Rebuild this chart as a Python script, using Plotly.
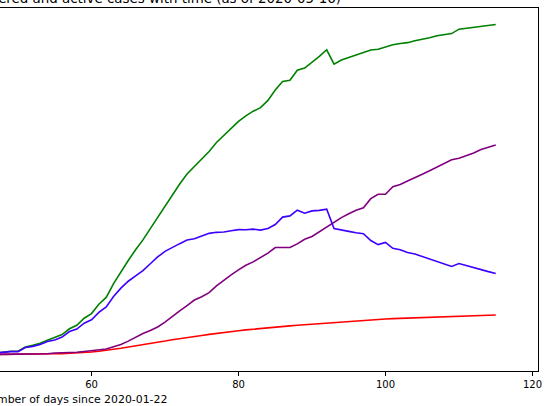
import plotly.graph_objects as go

days = list(range(47, 116))

confirmed = [1073, 1695, 2277, 2277, 5232, 6391, 7798, 9942, 11748, 13910,
             17963, 20410, 25374, 28603, 35136, 39885, 49515, 57786, 65719, 73235,
             80110, 87956, 95923, 104118, 112065, 119199, 126168, 131646, 136675, 141942,
             148220, 153222, 158273, 163027, 166831, 170099, 172541, 177644, 184948, 190839,
             191726, 198674, 200210, 204178, 208389, 213024, 202990, 205905, 207634, 209465,
             210773, 212917, 213435, 215216, 216582, 217466, 218011, 219329, 220325, 221447,
             222857, 223578, 224350, 227436, 228030, 228691, 229540, 230183, 230698]

deaths = [28, 35, 54, 55, 133, 195, 289, 342, 533, 623,
          830, 1043, 1375, 1772, 2311, 2808, 3647, 4365, 5138, 5982,
          6803, 7716, 8464, 9387, 10348, 11198, 11947, 12641, 13341, 14045,
          14792, 15447, 16081, 16606, 17209, 17756, 18056, 18708, 19315, 20002,
          20043, 20453, 20852, 21282, 21717, 22157, 22524, 22902, 23190, 23521,
          23822, 24275, 24543, 24824, 25100, 25264, 25428, 25613, 25857, 26070,
          26299, 26478, 26621, 26744, 26920, 27104, 27321, 27459, 27563]

recovered = [32, 32, 183, 183, 193, 517, 517, 530, 1028, 1081,
             1107, 1588, 2125, 2575, 3355, 3794, 5367, 7015, 9357, 12285,
             14709, 16780, 19259, 22647, 26743, 30513, 34219, 38080, 40437, 43208,
             48021, 52165, 55668, 59109, 62391, 64727, 67504, 70853, 74797, 74797,
             74797, 77357, 80587, 82514, 85915, 89250, 92355, 95708, 98372, 100875,
             102548, 108947, 112050, 112050, 117248, 118902, 121343, 123486, 126002, 128511,
             131148, 133952, 136166, 137139, 138980, 140823, 143374, 144783, 146446]

active = [1013, 1628, 2040, 2039, 4906, 5679, 6992, 9070, 10187, 12206,
          16026, 17779, 21874, 24256, 29470, 33283, 40501, 46406, 51224, 54968,
          58598, 63460, 68200, 72084, 74974, 77488, 80002, 80925, 82897, 84689,
          85407, 85610, 86524, 87312, 87231, 87616, 86981, 88083, 90836, 96040,
          96886, 100864, 98771, 100382, 100757, 101617, 88111, 87295, 86072, 85069,
          84403, 79695, 76842, 78342, 74234, 73300, 71240, 70230, 68466, 66866,
          65410, 63148, 61563, 63553, 62130, 60764, 58845, 57941, 56689]

x_ticks = [60, 80, 100, 120]
title_text = "Confirmed, deaths, recovered and active cases with time (as of 2020-05-16)"
xlabel_text = "Number of days since 2020-01-22"

FONT = "DejaVu Sans"

fig = go.Figure()
fig.add_trace(go.Scatter(x=days, y=confirmed, mode="lines", line=dict(color="#008000", width=1.6), name="Confirmed"))
fig.add_trace(go.Scatter(x=days, y=deaths, mode="lines", line=dict(color="#ff0000", width=1.6), name="Deaths"))
fig.add_trace(go.Scatter(x=days, y=recovered, mode="lines", line=dict(color="#800080", width=1.6), name="Recovered"))
fig.add_trace(go.Scatter(x=days, y=active, mode="lines", line=dict(color="#3c00ff", width=1.6), name="Active"))

ymax = max(confirmed)
pad = 0.05 * ymax

fig.update_layout(
    width=548, height=406,
    margin=dict(l=0, r=10, t=8, b=35, autoexpand=False),
    paper_bgcolor="white", plot_bgcolor="white",
    showlegend=False,
    font=dict(family=FONT, size=10, color="black"),
    xaxis=dict(range=[47.55, 120.75], tickvals=x_ticks, ticktext=[str(t) for t in x_ticks],
               showgrid=False, zeroline=False, showline=True, linecolor="black", linewidth=1,
               mirror=True, ticks="outside", ticklen=4, tickwidth=1, tickcolor="black",
               tickfont=dict(family=FONT, size=10, color="black"), automargin=False),
    yaxis=dict(range=[-pad, ymax + pad], showticklabels=False, ticks="", showgrid=False,
               zeroline=False, showline=True, linecolor="black", linewidth=1, side="right",
               automargin=False),
    annotations=[
        dict(text=title_text, xref="paper", yref="paper", x=343 / 538, y=1, xanchor="right",
             yanchor="bottom", showarrow=False, font=dict(family=FONT, size=13.4, color="black"),
             yshift=0),
        dict(text=xlabel_text, xref="paper", yref="paper", x=169 / 538, y=0, xanchor="right",
             yanchor="top", showarrow=False, font=dict(family=FONT, size=10.9, color="black"),
             yshift=-20),
    ],
)

fig.write_html("out.html", config={"displayModeBar": False},
               post_script="document.body.style.margin='0';document.body.style.overflow='hidden';")
